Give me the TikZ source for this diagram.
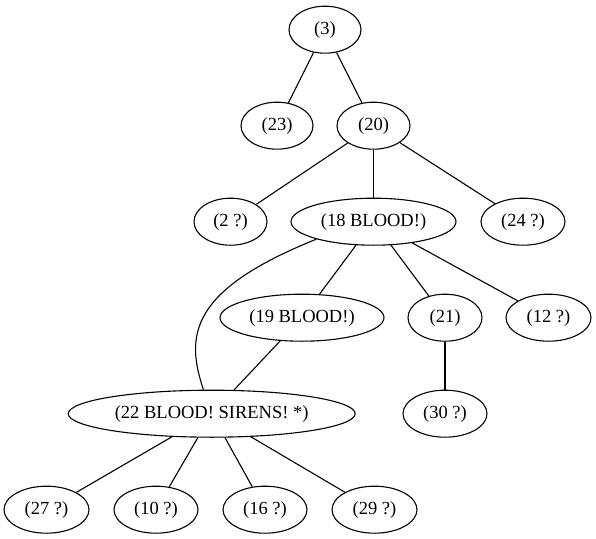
\documentclass[tikz,border=0pt]{standalone}
\usepackage{fontspec}
\setmainfont{Liberation Serif}
\usetikzlibrary{shapes.geometric}
\begin{document}
\begin{tikzpicture}[x=1bp,y=-1bp,
  nd/.style={ellipse, draw, line width=1.1bp, inner sep=0pt, minimum height=47bp,
    font=\fontsize{18.5bp}{22bp}\selectfont},
  edge/.style={line width=1.1bp}]
\useasboundingbox (0,0) rectangle (596,539);
\node[nd, minimum width=72bp] (n3) at (325,29.7) {(3)};
\node[nd, minimum width=72bp] (n23) at (277,125.7) {(23)};
\node[nd, minimum width=73bp] (n20) at (373.5,125.7) {(20)};
\node[nd, minimum width=73bp] (n2) at (230.5,221.7) {(2 ?)};
\node[nd, minimum width=165bp] (n18) at (373.5,221.7) {(18 BLOOD!)};
\node[nd, minimum width=84bp] (n24) at (523,221.7) {(24 ?)};
\node[nd, minimum width=164bp] (n19) at (302,317.7) {(19 BLOOD!)};
\node[nd, minimum width=74bp] (n21) at (445,317.7) {(21)};
\node[nd, minimum width=85bp] (n12) at (548.5,317.7) {(12 ?)};
\node[nd, minimum width=287bp] (n22) at (211.7,413.7) {(22 BLOOD! SIRENS! *)};
\node[nd, minimum width=84bp] (n30) at (445,413.7) {(30 ?)};
\node[nd, minimum width=85bp] (n27) at (46.5,509.7) {(27 ?)};
\node[nd, minimum width=84bp] (n10) at (156,509.7) {(10 ?)};
\node[nd, minimum width=84bp] (n16) at (265,509.7) {(16 ?)};
\node[nd, minimum width=85bp] (n29) at (374.5,509.7) {(29 ?)};
\draw[edge] (n3) -- (n23);
\draw[edge] (n3) -- (n20);
\draw[edge] (n20) -- (n2);
\draw[edge] (n20) -- (n18);
\draw[edge] (n20) -- (n24);
\draw[edge] (n18) -- (n19);
\draw[edge] (n18) -- (n21);
\draw[edge] (n18) -- (n12);
\draw[edge] (n18.197) .. controls (190,290) and (185,335) .. (n22.109);
\draw[edge] (n19) -- (n22);
\draw[edge] (n21) -- (n30);
\draw[edge] (n22) -- (n27);
\draw[edge] (n22) -- (n10);
\draw[edge] (n22) -- (n16);
\draw[edge] (n22) -- (n29);
\end{tikzpicture}
\end{document}
